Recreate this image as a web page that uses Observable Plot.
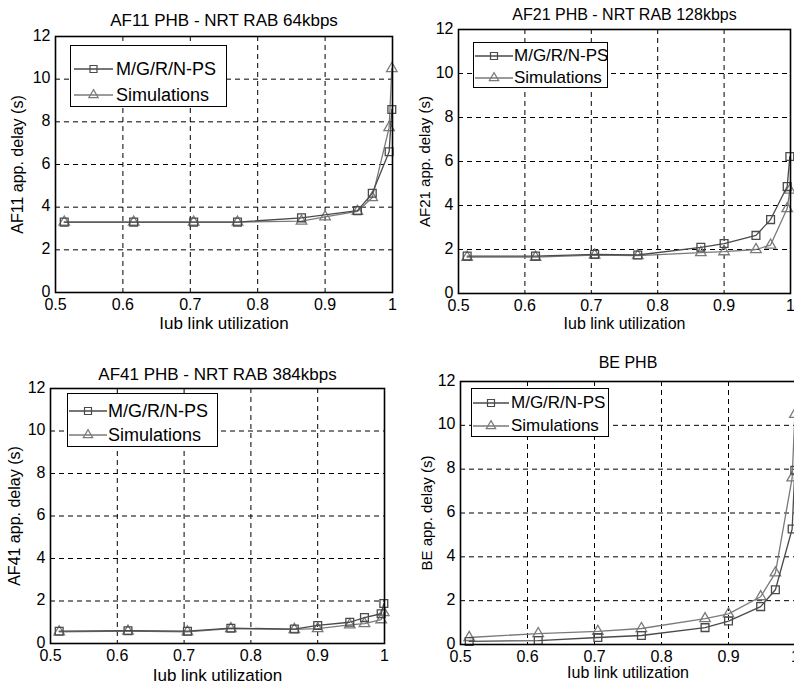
<!DOCTYPE html>
<html><head><meta charset="utf-8">
<script src="https://cdn.jsdelivr.net/npm/d3@7"></script>
<script src="https://cdn.jsdelivr.net/npm/@observablehq/plot@0.6"></script>
<style>
body{margin:0;background:#fff}
#chart{position:relative;width:794px;height:688px;overflow:hidden;background:#fff;font-family:"Liberation Sans",Arial,sans-serif;color:#000}
#chart svg.plotpanel{position:absolute;max-width:none}
.legend{position:absolute;border:1px solid #000;background:#fff;box-sizing:border-box}
.legend .row{position:absolute;left:0;height:22px;display:flex;align-items:center;white-space:nowrap}
.legend .row svg{display:block}
</style></head><body><div id="chart"></div>
<script>
// ---- data ----
const xTicks = [0.5, 0.6, 0.7, 0.8, 0.9, 1];
const xTickLabels = ["0.5", "0.6", "0.7", "0.8", "0.9", "1"];
const yTicks = [0, 2, 4, 6, 8, 10, 12];
const yTickLabels = ["0", "2", "4", "6", "8", "10", "12"];
const seriesNames = ["M/G/R/N-PS", "Simulations"];
const titles = ["AF11 PHB - NRT RAB 64kbps", "AF21 PHB - NRT RAB 128kbps", "AF41 PHB - NRT RAB 384kbps", "BE PHB"];
const yLabels = ["AF11 app. delay (s)", "AF21 app. delay (s)", "AF41 app. delay (s)", "BE app. delay (s)"];
const xLabel = "Iub link utilization";

const utilAll = [0.513, 0.616, 0.705, 0.77, 0.865, 0.9, 0.948, 0.97, 0.995, 0.999];
const utilAF11Model = [0.513, 0.616, 0.705, 0.77, 0.865, 0.948, 0.97, 0.995, 0.999];
const af11Model = [3.3, 3.3, 3.3, 3.3, 3.5, 3.84, 4.65, 6.6, 8.58];
const af11Sim = [3.3, 3.3, 3.3, 3.3, 3.35, 3.55, 3.8, 4.45, 7.73, 10.5];
const af21Model = [1.7, 1.7, 1.78, 1.75, 2.1, 2.27, 2.64, 3.36, 4.86, 6.23];
const af21Sim = [1.65, 1.65, 1.75, 1.72, 1.86, 1.9, 2.0, 2.2, 3.86, 4.7];
const af41Model = [0.58, 0.6, 0.58, 0.72, 0.68, 0.85, 1.0, 1.22, 1.4, 1.88];
const af41Sim = [0.55, 0.58, 0.55, 0.7, 0.66, 0.7, 0.88, 0.94, 1.12, 1.45];
const beModel = [0.14, 0.18, 0.32, 0.41, 0.77, 1.07, 1.73, 2.5, 5.27, 7.95];
const beSim = [0.32, 0.5, 0.6, 0.73, 1.18, 1.4, 2.18, 3.27, 7.6, 10.5];

// ---- styling / layout ----
const FONT = '"Liberation Sans", Arial, Helvetica, sans-serif';
const modelColor = "#4a4a4a";
const simColor = "#7a7a7a";
const zip = (xs, ys) => xs.map((x, i) => ({x, y: ys[i]}));

const panels = [
  {model: zip(utilAF11Model, af11Model), sim: zip(utilAll, af11Sim),
   left: 0, top: 0, width: 400, height: 340, ml: 55, mr: 8, mt: 36, mb: 48,
   titleDy: -16, titleSize: 17, xlDy: 31, xlSize: 17, ylDx: -38, ylSize: 16, tickSize: 16,
   legend: {l: 70, t: 45, w: 157, h: 62, rows: [23, 49], lineL: 3, lineW: 39, textL: 45, fs: 18}},
  {model: zip(utilAll, af21Model), sim: zip(utilAll, af21Sim),
   left: 400, top: 0, width: 394, height: 340, ml: 58, mr: 4, mt: 29, mb: 47,
   titleDy: -15, titleSize: 16, xlDy: 30, xlSize: 16, ylDx: -33, ylSize: 15, tickSize: 16,
   legend: {l: 473, t: 42, w: 135, h: 46, rows: [13, 35], lineL: 1, lineW: 38, textL: 40, fs: 17}},
  {model: zip(utilAll, af41Model), sim: zip(utilAll, af41Sim),
   left: 0, top: 340, width: 400, height: 348, ml: 50, mr: 16, mt: 48, mb: 45,
   titleDy: -14, titleSize: 17, xlDy: 32, xlSize: 17, ylDx: -36, ylSize: 16, tickSize: 16,
   legend: {l: 67, t: 393, w: 151, h: 54, rows: [17, 41], lineL: 1, lineW: 38, textL: 40, fs: 18}},
  {model: zip(utilAll, beModel), sim: zip(utilAll, beSim),
   left: 400, top: 340, width: 400, height: 348, ml: 60, mr: 5, mt: 41, mb: 44,
   titleDy: -19, titleSize: 16, xlDy: 28, xlSize: 16, ylDx: -33, ylSize: 15, tickSize: 16,
   legend: {l: 471, t: 388, w: 138, h: 49, rows: [14, 37], lineL: 1, lineW: 36, textL: 39, fs: 17}}
];

const xFmt = new Map(xTicks.map((t, i) => [t, xTickLabels[i]]));
const yFmt = new Map(yTicks.map((t, i) => [t, yTickLabels[i]]));
const grid = {stroke: "#000", strokeOpacity: 1, strokeWidth: 1, strokeDasharray: "5,4"};

const chart = document.getElementById("chart");

panels.forEach((P, k) => {
  const svg = Plot.plot({
    width: P.width, height: P.height,
    marginLeft: P.ml, marginRight: P.mr, marginTop: P.mt, marginBottom: P.mb,
    style: {fontFamily: FONT, fontSize: P.tickSize + "px", color: "#000", background: "transparent", overflow: "visible"},
    x: {domain: [0.5, 1]},
    y: {domain: [0, 12]},
    marks: [
      Plot.gridX(xTicks.slice(1, -1), grid),
      Plot.gridY(yTicks.slice(1, -1), grid),
      Plot.axisX({ticks: xTicks, tickSize: 0, tickPadding: 6, tickFormat: d => xFmt.get(d), label: null, fontSize: P.tickSize}),
      Plot.axisY({ticks: yTicks, tickSize: 0, tickPadding: 5, tickFormat: d => yFmt.get(d), label: null, fontSize: P.tickSize, dy: -1}),
      Plot.line(P.sim, {x: "x", y: "y", stroke: simColor, strokeWidth: 1.3}),
      Plot.dot(P.sim, {x: "x", y: "y", symbol: "triangle", r: 3.9, stroke: simColor, fill: "none", strokeWidth: 1.3}),
      Plot.line(P.model, {x: "x", y: "y", stroke: modelColor, strokeWidth: 1.3}),
      Plot.dot(P.model, {x: "x", y: "y", symbol: "square", r: 4.4, stroke: modelColor, fill: "none", strokeWidth: 1.3}),
      Plot.frame({stroke: "#000", strokeWidth: 1.6}),
      Plot.text([titles[k]], {text: d => d, frameAnchor: "top", dy: P.titleDy, lineAnchor: "middle", fontSize: P.titleSize}),
      Plot.text([xLabel], {text: d => d, frameAnchor: "bottom", dy: P.xlDy, lineAnchor: "middle", fontSize: P.xlSize}),
      Plot.text([yLabels[k]], {text: d => d, frameAnchor: "left", dx: P.ylDx, rotate: -90, textAnchor: "middle", lineAnchor: "middle", fontSize: P.ylSize})
    ]
  });
  svg.classList.add("plotpanel");
  svg.style.left = P.left + "px";
  svg.style.top = P.top + "px";
  chart.appendChild(svg);

  // legend box in the plot's upper-left corner, MATLAB style
  const L = P.legend;
  const box = document.createElement("div");
  box.className = "legend";
  Object.assign(box.style, {left: L.l + "px", top: L.t + "px", width: L.w + "px", height: L.h + "px"});
  const items = [
    {name: seriesNames[0], color: modelColor, type: d3.symbolSquare, size: Math.PI * 4.4 * 4.4 * 0.8},
    {name: seriesNames[1], color: simColor, type: d3.symbolTriangle, size: Math.PI * 3.9 * 3.9 * 0.8}
  ];
  items.forEach((it, j) => {
    const row = document.createElement("div");
    row.className = "row";
    row.style.top = (L.rows[j] - 11) + "px";
    row.style.left = L.lineL + "px";
    const sw = d3.create("svg").attr("width", L.textL - L.lineL).attr("height", 22);
    sw.append("line").attr("x1", 0).attr("x2", L.lineW).attr("y1", 11).attr("y2", 11)
      .attr("stroke", it.color).attr("stroke-width", 1.3);
    sw.append("path").attr("d", d3.symbol(it.type, it.size)())
      .attr("transform", `translate(${L.lineW / 2},11)`)
      .attr("fill", "none").attr("stroke", it.color).attr("stroke-width", 1.2);
    row.appendChild(sw.node());
    const span = document.createElement("span");
    span.textContent = it.name;
    span.style.fontSize = L.fs + "px";
    span.style.lineHeight = "22px";
    row.appendChild(span);
    box.appendChild(row);
  });
  chart.appendChild(box);
});
</script></body></html>
